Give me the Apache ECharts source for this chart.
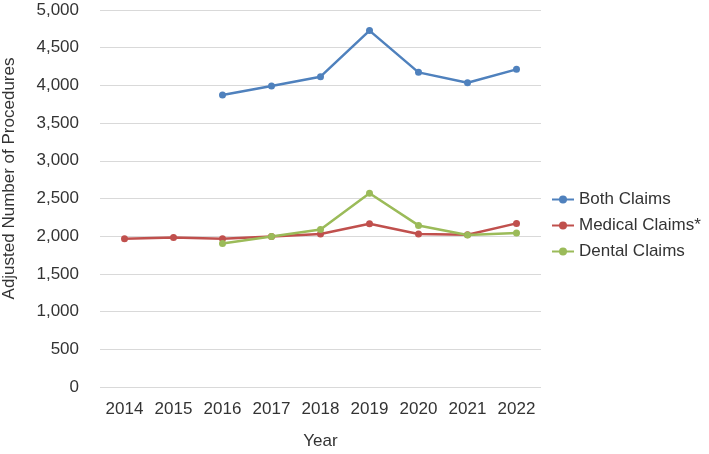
<!DOCTYPE html>
<html>
<head>
<meta charset="utf-8">
<script src="https://cdn.jsdelivr.net/npm/echarts@6/dist/echarts.min.js"></script>
<style>
  html, body { margin: 0; padding: 0; background: #fff; }
  #chart { width: 709px; height: 454px; }
</style>
</head>
<body>
<div id="chart"></div>
<script>
var years = ['2014', '2015', '2016', '2017', '2018', '2019', '2020', '2021', '2022'];
var bothClaims = [null, null, 3872, 3992, 4116, 4727, 4173, 4036, 4213];
var medicalClaims = [1965, 1984, 1965, 1997, 2028, 2165, 2028, 2019, 2170];
var dentalClaims = [null, null, 1904, 1997, 2090, 2569, 2143, 2015, 2041];

var font = 'Liberation Sans, Arial, sans-serif';
var textColor = '#333333';

function lineSeries(name, data, color) {
    return {
        name: name,
        type: 'line',
        data: data,
        symbol: 'circle',
        symbolSize: 7,
        lineStyle: { color: color, width: 2.5 },
        itemStyle: { color: color },
        emphasis: { disabled: true }
    };
}

var myChart = echarts.init(document.getElementById('chart'));
var option = {
    animation: false,
    textStyle: { fontFamily: font },
    grid: { left: 100, right: 168, top: 10, bottom: 67, outerBoundsMode: 'none' },
    legend: {
        orient: 'vertical',
        left: 546,
        top: 186,
        itemWidth: 22,
        itemHeight: 10,
        itemGap: 9,
        textStyle: { fontSize: 17, color: textColor, fontFamily: font },
        data: ['Both Claims', 'Medical Claims*', 'Dental Claims']
    },
    xAxis: {
        type: 'category',
        data: years,
        name: 'Year',
        nameLocation: 'middle',
        nameGap: 46,
        nameTextStyle: { fontSize: 17, color: textColor },
        axisLine: { show: false },
        axisTick: { show: false },
        axisLabel: { fontSize: 17, color: textColor, margin: 14, interval: 0, hideOverlap: false }
    },
    yAxis: {
        type: 'value',
        min: 0,
        max: 5000,
        interval: 500,
        name: 'Adjusted Number of Procedures',
        nameLocation: 'middle',
        nameGap: 82,
        nameTextStyle: { fontSize: 17, color: textColor, padding: [0, 0, 0, 40] },
        axisLine: { show: false },
        axisTick: { show: false },
        axisLabel: {
            fontSize: 17,
            color: textColor,
            margin: 21,
            formatter: function (v) { return v.toLocaleString('en-US'); }
        },
        splitLine: { lineStyle: { color: '#d9d9d9', width: 1 } }
    },
    series: [
        lineSeries('Both Claims', bothClaims, '#4f81bd'),
        lineSeries('Medical Claims*', medicalClaims, '#c0504d'),
        lineSeries('Dental Claims', dentalClaims, '#9bbb59')
    ]
};
myChart.setOption(option);
</script>
</body>
</html>
